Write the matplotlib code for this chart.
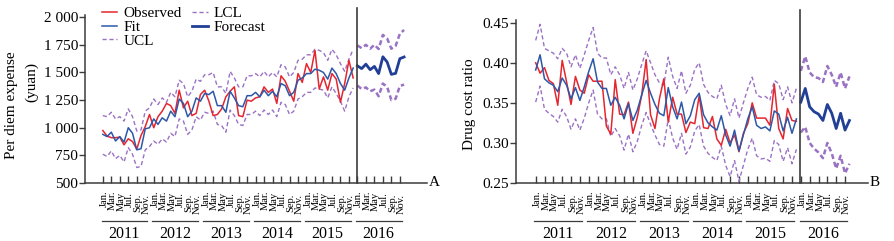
import matplotlib
matplotlib.use("Agg")
import matplotlib.pyplot as plt
import numpy as np
from matplotlib.transforms import blended_transform_factory, ScaledTranslation
from matplotlib.lines import Line2D

plt.rcParams["font.family"] = ["Liberation Serif", "DejaVu Serif"]

YEARS = ["2011", "2012", "2013", "2014", "2015", "2016"]
MONTH_LABELS = ["Jan.", "Mar.", "May", "Jul.", "Sep.", "Nov."]

# ── Panel A: per diem expense (yuan), Jan 2011 - Dec 2015 ───────────────────
exp_observed = [975, 925, 910, 910, 915, 845, 900, 875, 805, 930, 1010, 1120,
                1000, 1100, 1150, 1220, 1200, 1130, 1340, 1180, 1240, 1110, 1130, 1300,
                1340, 1240, 1110, 1120, 1170, 1280, 1330, 1370, 1110, 1100, 1250, 1240,
                1270, 1280, 1370, 1320, 1350, 1220, 1470, 1420, 1330, 1240, 1490, 1410,
                1580, 1500, 1700, 1350, 1460, 1340, 1490, 1440, 1230, 1400, 1610, 1450]
exp_fit = [940, 920, 960, 880, 920, 870, 1000, 950, 800, 810, 990, 1000,
           1080, 1030, 1090, 1060, 1150, 1100, 1260, 1220, 1100, 1150, 1270, 1240,
           1310, 1300, 1330, 1200, 1200, 1140, 1330, 1270, 1200, 1190, 1290, 1290,
           1320, 1280, 1340, 1290, 1330, 1280, 1400, 1380, 1290, 1320, 1430, 1450,
           1490, 1490, 1530, 1520, 1500, 1440, 1540, 1490, 1400, 1340, 1450, 1540]
exp_ucl = [1110, 1100, 1140, 1080, 1100, 1060, 1170, 1100, 970, 980, 1150, 1180,
           1260, 1210, 1270, 1230, 1320, 1280, 1430, 1400, 1280, 1330, 1440, 1420,
           1480, 1480, 1500, 1370, 1370, 1310, 1510, 1450, 1370, 1370, 1470, 1470,
           1490, 1460, 1510, 1460, 1500, 1460, 1570, 1550, 1460, 1500, 1610, 1620,
           1660, 1660, 1710, 1700, 1680, 1610, 1710, 1660, 1580, 1510, 1620, 1710]
exp_lcl = [760, 740, 790, 720, 750, 690, 820, 760, 640, 650, 800, 830,
           880, 850, 900, 870, 950, 920, 1080, 1060, 940, 980, 1100, 1070,
           1140, 1130, 1150, 1030, 1020, 960, 1160, 1110, 1030, 1020, 1120, 1120,
           1150, 1110, 1160, 1120, 1160, 1100, 1230, 1210, 1120, 1150, 1260, 1280,
           1320, 1320, 1360, 1350, 1340, 1270, 1370, 1310, 1240, 1150, 1280, 1360]
# 2016 forecast
exp_forecast = [1560, 1535, 1575, 1525, 1555, 1490, 1642, 1595, 1483, 1492, 1625, 1640]
exp_fc_ucl = [1745, 1720, 1750, 1715, 1750, 1712, 1840, 1808, 1715, 1740, 1850, 1885]
exp_fc_lcl = [1382, 1350, 1365, 1330, 1345, 1285, 1400, 1370, 1250, 1262, 1378, 1390]

# ── Panel B: drug cost ratio ────────────────────────────────────────────────
drug_observed = [0.400, 0.387, 0.394, 0.378, 0.374, 0.347, 0.403, 0.376, 0.348, 0.383, 0.366, 0.362,
                 0.385, 0.377, 0.377, 0.377, 0.321, 0.311, 0.379, 0.336, 0.335, 0.351, 0.312, 0.332,
                 0.360, 0.404, 0.335, 0.318, 0.355, 0.380, 0.326, 0.357, 0.336, 0.336, 0.313, 0.326,
                 0.324, 0.359, 0.319, 0.318, 0.333, 0.305, 0.297, 0.317, 0.300, 0.310, 0.289, 0.312,
                 0.324, 0.350, 0.331, 0.331, 0.331, 0.322, 0.373, 0.318, 0.305, 0.343, 0.328, 0.327]
drug_fit = [0.391, 0.410, 0.380, 0.375, 0.372, 0.364, 0.381, 0.372, 0.355, 0.369, 0.353, 0.370,
            0.389, 0.405, 0.376, 0.368, 0.368, 0.347, 0.357, 0.347, 0.330, 0.349, 0.328, 0.341,
            0.360, 0.378, 0.362, 0.348, 0.337, 0.334, 0.369, 0.345, 0.330, 0.351, 0.324, 0.334,
            0.354, 0.362, 0.335, 0.325, 0.320, 0.316, 0.334, 0.310, 0.296, 0.316, 0.290, 0.310,
            0.330, 0.345, 0.322, 0.318, 0.320, 0.315, 0.340, 0.336, 0.315, 0.332, 0.312, 0.330]
drug_ucl = [0.428, 0.448, 0.418, 0.415, 0.412, 0.405, 0.418, 0.412, 0.395, 0.410, 0.393, 0.410,
            0.428, 0.444, 0.412, 0.406, 0.406, 0.385, 0.395, 0.385, 0.368, 0.388, 0.366, 0.380,
            0.398, 0.415, 0.400, 0.385, 0.375, 0.372, 0.407, 0.383, 0.368, 0.390, 0.362, 0.372,
            0.392, 0.400, 0.373, 0.363, 0.358, 0.355, 0.372, 0.348, 0.334, 0.355, 0.331, 0.350,
            0.368, 0.382, 0.360, 0.357, 0.358, 0.353, 0.378, 0.374, 0.354, 0.370, 0.350, 0.368]
drug_lcl = [0.351, 0.371, 0.342, 0.337, 0.333, 0.326, 0.342, 0.333, 0.317, 0.330, 0.316, 0.331,
            0.350, 0.366, 0.336, 0.330, 0.330, 0.308, 0.318, 0.309, 0.291, 0.311, 0.289, 0.302,
            0.322, 0.338, 0.323, 0.310, 0.298, 0.296, 0.330, 0.306, 0.292, 0.312, 0.286, 0.295,
            0.315, 0.323, 0.296, 0.287, 0.282, 0.278, 0.296, 0.272, 0.258, 0.278, 0.252, 0.272,
            0.292, 0.306, 0.284, 0.280, 0.281, 0.277, 0.303, 0.298, 0.277, 0.294, 0.274, 0.292]
drug_forecast = [0.351, 0.368, 0.345, 0.339, 0.336, 0.328, 0.348, 0.337, 0.318, 0.337, 0.316, 0.328]
drug_fc_ucl = [0.390, 0.408, 0.388, 0.382, 0.381, 0.376, 0.396, 0.385, 0.370, 0.388, 0.368, 0.383]
drug_fc_lcl = [0.313, 0.320, 0.300, 0.293, 0.288, 0.281, 0.300, 0.287, 0.268, 0.284, 0.262, 0.274]

exp_yticks = [500, 750, 1000, 1250, 1500, 1750, 2000]
exp_yticklabels = ["500", "750", "1 000", "1 250", "1 500", "1 750", "2 000"]
drug_yticks = [0.25, 0.30, 0.35, 0.40, 0.45]
drug_yticklabels = ["0.25", "0.30", "0.35", "0.40", "0.45"]

RED = "#e42630"
BLUE = "#2d58a8"
FC_BLUE = "#213f96"
PURPLE = "#9a72c4"
AXIS = "#3c3c3c"

W, H, DPI = 894, 241, 100
fig = plt.figure(figsize=(W / DPI, H / DPI), dpi=DPI)


def px_box(left, top, right, bottom):
    return [left / W, 1 - bottom / H, (right - left) / W, (bottom - top) / H]


def down(ax, px):
    """blended (data x, axes y) transform shifted down by px pixels"""
    base = blended_transform_factory(ax.transData, ax.transAxes)
    return base + ScaledTranslation(0, -px / DPI, fig.dpi_scale_trans)


def draw_panel(ax, obs, fit, ucl, lcl, fc, fc_ucl, fc_lcl,
               xlim, ylim, yticks, yticklabels, letter, vtop):
    hist = np.arange(len(obs))
    fut = np.arange(len(obs), len(obs) + len(fc))

    ax.plot(hist, ucl, color=PURPLE, lw=1.0, ls=(0, (3, 2)))
    ax.plot(hist, lcl, color=PURPLE, lw=1.0, ls=(0, (3, 2)))
    ax.plot(hist, obs, color=RED, lw=1.1)
    ax.plot(hist, fit, color=BLUE, lw=1.1)
    ax.plot(fut, fc_ucl, color=PURPLE, lw=1.8, ls=(0, (2, 1.2)))
    ax.plot(fut, fc_lcl, color=PURPLE, lw=1.8, ls=(0, (2, 1.2)))
    ax.plot(fut, fc, color=FC_BLUE, lw=2.0)

    # separator between history and forecast
    ax.plot([len(obs) - 0.15] * 2, [0, vtop], color=AXIS, lw=1.2,
            transform=blended_transform_factory(ax.transData, ax.transAxes),
            clip_on=False)

    ax.set_xlim(*xlim)
    ax.set_ylim(*ylim)
    ax.set_yticks(yticks)
    ax.set_yticklabels(yticklabels, fontsize=11)
    ax.tick_params(axis="y", direction="out", length=4, width=1, color=AXIS, pad=1)

    n_months = len(obs) + len(fc)
    ax.set_xticks(np.arange(0, n_months, 2))
    ax.set_xticklabels([])
    ax.tick_params(axis="x", direction="in", length=5, width=1, color=AXIS)

    for s in ["top", "right"]:
        ax.spines[s].set_visible(False)
    for s in ["left", "bottom"]:
        ax.spines[s].set_color(AXIS)
        ax.spines[s].set_linewidth(1.1)

    # month labels (staircase) + year underline
    for yi, year in enumerate(YEARS):
        for k, lab in enumerate(MONTH_LABELS):
            m = 12 * yi + 2 * k
            ax.text(m + 0.3, 0, lab, transform=down(ax, 7 + 0.8 * k), rotation=90,
                    ha="center", va="top", fontsize=7.6)
        ax.plot([12 * yi - 0.3, 12 * yi + 10.5], [0, 0], transform=down(ax, 38),
                color=AXIS, lw=0.9, clip_on=False)
        ax.text(12 * yi + 5, 0, year, transform=down(ax, 51), ha="center",
                va="center", fontsize=11.5)

    ax.text(1.005, 0.0, letter, transform=ax.transAxes, ha="left", va="center",
            fontsize=11)


axA = fig.add_axes(px_box(85, 15, 427, 183))
draw_panel(axA, exp_observed, exp_fit, exp_ucl, exp_lcl,
           exp_forecast, exp_fc_ucl, exp_fc_lcl,
           (-4.2, 76.4), (500, 2020), exp_yticks, exp_yticklabels, "A", 1.042)
fig.text(12 / W, 1 - 105 / H, "Per diem expense", rotation=90, ha="center",
         va="center", fontsize=11)
fig.text(32 / W, 1 - 82 / H, "(yuan)", rotation=90, ha="center",
         va="center", fontsize=11)

handles = [
    Line2D([], [], color=RED, lw=1.1),
    Line2D([], [], color=BLUE, lw=1.1),
    Line2D([], [], color=PURPLE, lw=1.0, ls=(0, (3, 2))),
    Line2D([], [], color=PURPLE, lw=1.0, ls=(0, (3, 2))),
    Line2D([], [], color=FC_BLUE, lw=2.0),
]
labels = ["Observed", "Fit", "UCL", "LCL", "Forecast"]
axA.legend(handles, labels, ncol=2, loc="upper left", bbox_to_anchor=(0.05, 1.05),
           frameon=False, fontsize=11, handlelength=1.0, handletextpad=0.4,
           labelspacing=0.0, columnspacing=0.7, borderpad=0, borderaxespad=0)

axB = fig.add_axes(px_box(516, 20, 868, 183))
draw_panel(axB, drug_observed, drug_fit, drug_ucl, drug_lcl,
           drug_forecast, drug_fc_ucl, drug_fc_lcl,
           (-4.45, 75.2), (0.25, 0.4534), drug_yticks, drug_yticklabels, "B", 1.061)
fig.text(469 / W, 1 - 104 / H, "Drug cost ratio", rotation=90, ha="center",
         va="center", fontsize=11)

fig.savefig("out.png", dpi=DPI)
